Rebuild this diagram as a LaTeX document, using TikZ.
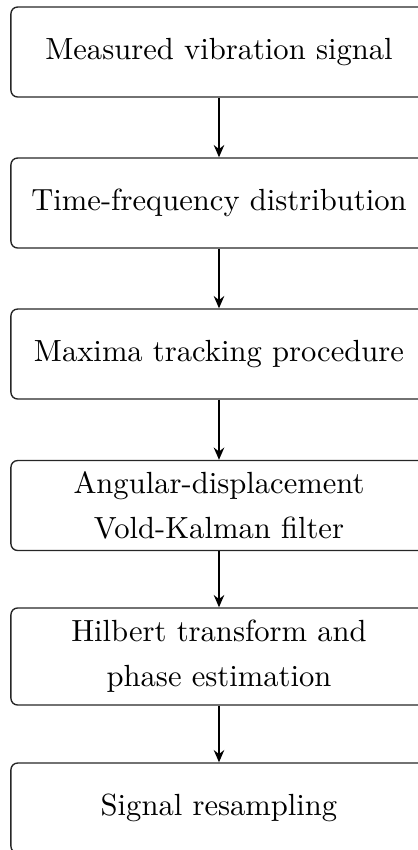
\documentclass[tikz,border=0pt]{standalone}
\usetikzlibrary{arrows.meta}
\begin{document}
\begin{tikzpicture}[x=0.3268pt,y=-0.3268pt,
  stepbox/.style={draw=black!85, line width=0.45pt, rounded corners=2.2pt,
    minimum width=136pt, minimum height=29.4pt, inner sep=0pt, align=center,
    font=\fontsize{10}{14.7}\selectfont},
  flow/.style={-{Stealth[length=4pt,width=3.4pt]}, line width=0.7pt}]
\useasboundingbox (0,0) rectangle (418,850);
\node[stepbox] (a) at (219,52) {Measured vibration signal};
\node[stepbox] (b) at (219,203) {Time-frequency distribution};
\node[stepbox] (c) at (219,354) {Maxima tracking procedure};
\node[stepbox] (d) at (219,505.5) {Angular-displacement\\Vold-Kalman filter};
\node[stepbox, minimum height=31.7pt] (e) at (219,656.5) {Hilbert transform and\\phase estimation};
\node[stepbox] (f) at (219,808) {Signal resampling};
\draw[flow] (a) -- (b);
\draw[flow] (b) -- (c);
\draw[flow] (c) -- (d);
\draw[flow] (d) -- (e);
\draw[flow] (e) -- (f);
\end{tikzpicture}
\end{document}
